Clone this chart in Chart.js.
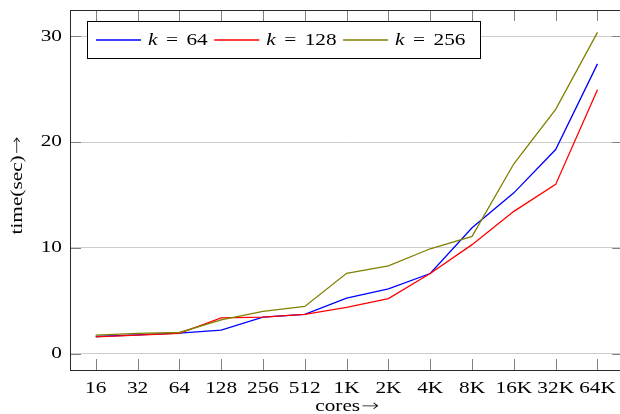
<!DOCTYPE html>
<html>
<head>
<meta charset="utf-8">
<script src="https://cdn.jsdelivr.net/npm/chart.js@4"></script>
<style>
  html, body { margin: 0; padding: 0; background: #fff; overflow: hidden; width: 620px; height: 414px; }
  #wrap { width: 630px; height: 414px; }
</style>
</head>
<body>
<div id="wrap"><canvas id="c" width="630" height="414"></canvas></div>
<script>
// Run time (seconds) against core count for three values of k
const CORES = ['16', '32', '64', '128', '256', '512', '1K', '2K', '4K', '8K', '16K', '32K', '64K'];
const K64  = [1.61, 1.77, 1.93, 2.21, 3.44, 3.70, 5.25, 6.12, 7.57, 11.9, 15.2, 19.3, 27.4];
const K128 = [1.58, 1.74, 1.90, 3.38, 3.44, 3.70, 4.37, 5.20, 7.57, 10.3, 13.45, 16.0, 24.95];
const K256 = [1.74, 1.90, 1.99, 3.19, 3.98, 4.45, 7.59, 8.30, 9.91, 11.08, 17.95, 23.1, 30.38];
const K_VALUES = ['64', '128', '256'];
const Y_TICKS = [0, 10, 20, 30];
const X_TITLE = 'cores';
const Y_TITLE = 'time(sec)';
const ARROW = '\u2192';

const FONT = '"Liberation Serif", "DejaVu Serif", serif';
const ARROW_FONT = '"DejaVu Sans", sans-serif';
const FONT_SIZE = 16;
const TEXT_WIDEN = 1.33;   // wide, TeX-like lettering

const canvas = document.getElementById('c');
const ctx = canvas.getContext('2d');

// Widen all text horizontally about its anchor point
(function widenText(c, sx) {
  const fill = c.fillText.bind(c);
  const measure = c.measureText.bind(c);
  c.fillText = function (text, x, y) {
    c.save();
    c.translate(x, y);
    c.scale(sx, 1);
    fill(text, 0, 0);
    c.restore();
  };
  c.measureText = function (text) {
    const m = measure(text);
    return {
      width: m.width * sx,
      actualBoundingBoxAscent: m.actualBoundingBoxAscent,
      actualBoundingBoxDescent: m.actualBoundingBoxDescent,
      actualBoundingBoxLeft: m.actualBoundingBoxLeft * sx,
      actualBoundingBoxRight: m.actualBoundingBoxRight * sx
    };
  };
})(ctx, TEXT_WIDEN);

const series = (values) => values.map((v, i) => ({ x: i, y: v }));

// Frame and inward tick marks on all four sides
const frameTicks = {
  id: 'frameTicks',
  beforeDatasetsDraw(chart) {
    const { ctx: c, chartArea: a, scales: { x, y } } = chart;
    const len = 11;
    c.save();
    c.lineWidth = 1;
    c.strokeStyle = '#808080';
    c.beginPath();
    CORES.forEach((_, i) => {
      const px = Math.round(x.getPixelForValue(i)) + 0.5;
      c.moveTo(px, a.bottom); c.lineTo(px, a.bottom - len);
      c.moveTo(px, a.top); c.lineTo(px, a.top + len);
    });
    Y_TICKS.forEach((t) => {
      const py = Math.round(y.getPixelForValue(t)) + 0.5;
      c.moveTo(a.left, py); c.lineTo(a.left + len, py);
      c.moveTo(a.right, py); c.lineTo(a.right - len, py);
    });
    c.stroke();
    c.strokeStyle = '#2a2a2a';
    c.strokeRect(Math.round(a.left) + 0.5, Math.round(a.top) + 0.5,
                 Math.round(a.right - a.left), Math.round(a.bottom - a.top));
    c.restore();
  }
};

// Axis titles: serif words followed by a thin arrow glyph
function titleWithArrow(c, word, cx, cy, rotate) {
  c.save();
  c.translate(cx, cy);
  if (rotate) c.rotate(-Math.PI / 2);
  c.textBaseline = 'middle';
  c.textAlign = 'left';
  c.fillStyle = '#000';
  const wordFont = `${FONT_SIZE}px ${FONT}`;
  const arrowFont = `200 ${FONT_SIZE}px ${ARROW_FONT}`;
  c.font = wordFont;
  const ww = c.measureText(word).width;
  c.font = arrowFont;
  const wa = c.measureText(ARROW).width;
  const x0 = -(ww + wa) / 2;
  c.font = wordFont;
  c.fillText(word, x0, 0);
  c.font = arrowFont;
  c.fillText(ARROW, x0 + ww + 1, 0);
  c.restore();
}

const axisTitles = {
  id: 'axisTitles',
  afterDraw(chart) {
    const a = chart.chartArea;
    titleWithArrow(chart.ctx, X_TITLE, (a.left + a.right) / 2, 407, false);
    titleWithArrow(chart.ctx, Y_TITLE, 17.5, 186, true);
  }
};

// Boxed horizontal legend in the upper left of the plot
const boxedLegend = {
  id: 'boxedLegend',
  afterDatasetsDraw(chart) {
    const c = chart.ctx;
    const left = 87.5, top = 21.5, height = 37;
    const sample = 45, padL = 8.5, padR = 15, gapText = 7, gapEntry = 6.5, gapEq = 8.5;
    const baseline = 45;
    const roman = `${FONT_SIZE}px ${FONT}`;
    const italic = `italic ${FONT_SIZE}px ${FONT}`;
    c.save();
    const entries = chart.data.datasets.map((ds, i) => {
      c.font = italic; const wk = c.measureText('k').width;
      c.font = roman;  const we = c.measureText('=').width;
      const wn = c.measureText(K_VALUES[i]).width;
      return { color: ds.borderColor, wk, we, wn, value: K_VALUES[i], w: wk + gapEq + we + gapEq + wn };
    });
    let total = padL + padR;
    entries.forEach((e, i) => { total += sample + gapText + e.w + (i < entries.length - 1 ? gapEntry : 0); });
    c.fillStyle = '#fff';
    c.fillRect(left, top, total, height);
    c.lineWidth = 1;
    c.strokeStyle = '#000';
    c.strokeRect(left, top, Math.round(total), height);
    let xPos = left + padL;
    const midY = top + height / 2;
    c.textBaseline = 'alphabetic';
    c.textAlign = 'left';
    entries.forEach((e) => {
      c.strokeStyle = e.color;
      c.lineWidth = 1.3;
      c.beginPath();
      c.moveTo(xPos, midY); c.lineTo(xPos + sample, midY);
      c.stroke();
      xPos += sample + gapText;
      c.fillStyle = '#000';
      c.font = italic; c.fillText('k', xPos, baseline);
      xPos += e.wk + gapEq;
      c.font = roman; c.fillText('=', xPos, baseline);
      xPos += e.we + gapEq;
      c.fillText(e.value, xPos, baseline);
      xPos += e.wn + gapEntry;
    });
    c.restore();
  }
};

Chart.defaults.font.family = FONT;
Chart.defaults.font.size = FONT_SIZE;
Chart.defaults.color = '#000';

new Chart(ctx, {
  type: 'line',
  data: {
    datasets: [
      { label: 'k = ' + K_VALUES[0], data: series(K64),  borderColor: '#0000ff', order: 3 },
      { label: 'k = ' + K_VALUES[1], data: series(K128), borderColor: '#ff0000', order: 2 },
      { label: 'k = ' + K_VALUES[2], data: series(K256), borderColor: '#808000', order: 1 }
    ]
  },
  options: {
    responsive: false,
    animation: false,
    events: [],
    layout: { padding: { left: 0, top: 10, right: 6.8, bottom: 0 } },
    elements: {
      line: { borderWidth: 1.3, tension: 0, fill: false },
      point: { radius: 0 }
    },
    plugins: { legend: { display: false }, tooltip: { enabled: false } },
    scales: {
      x: {
        type: 'linear',
        min: -0.615,
        max: 12.615,
        afterBuildTicks: (s) => { s.ticks = CORES.map((_, i) => ({ value: i })); },
        afterFit: (s) => { s.height = 44; s.paddingLeft = 0; s.paddingRight = 0; },
        grid: { display: false, drawTicks: false },
        border: { display: false },
        ticks: {
          autoSkip: false, maxRotation: 0, padding: 9,
          callback: (v) => CORES[v]
        }
      },
      y: {
        min: -1.56,
        max: 32.5,
        afterBuildTicks: (s) => { s.ticks = Y_TICKS.map((v) => ({ value: v })); },
        afterFit: (s) => { s.width = 70; s.paddingTop = 0; s.paddingBottom = 0; },
        grid: { color: '#cccccc', lineWidth: 1, drawTicks: false },
        border: { display: false },
        ticks: { padding: 8 }
      }
    }
  },
  plugins: [frameTicks, boxedLegend, axisTitles]
});
</script>
</body>
</html>
